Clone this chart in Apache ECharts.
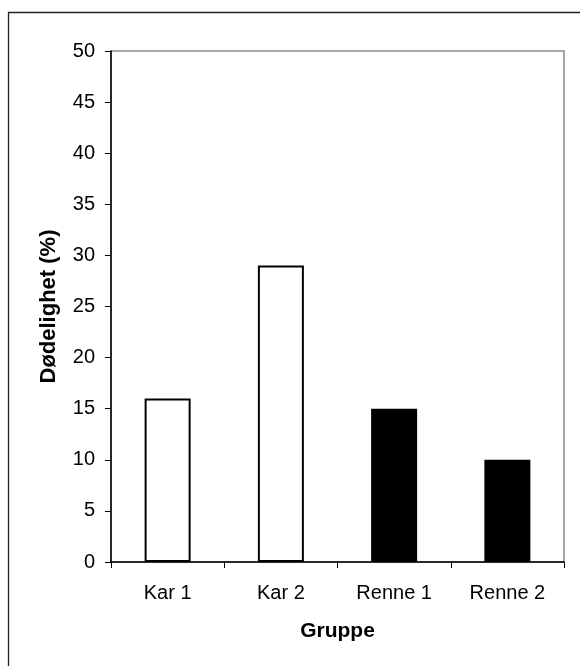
<!DOCTYPE html>
<html>
<head>
<meta charset="utf-8">
<script src="https://cdn.jsdelivr.net/npm/echarts@6/dist/echarts.min.js"></script>
<style>
  html, body { margin: 0; padding: 0; background: #fff; }
  #chart { width: 580px; height: 666px; }
</style>
</head>
<body>
<div id="chart"></div>
<script>
// Mortality per group: tanks (Kar) drawn hollow, channels (Renne) filled
const categories = ['Kar 1', 'Kar 2', 'Renne 1', 'Renne 2'];
const mortality = [16, 29, 15, 10];
const filled = [false, false, true, true];

const font = '"Liberation Sans", Arial, sans-serif';

const chart = echarts.init(document.getElementById('chart'), null, { renderer: 'canvas' });

chart.setOption({
  backgroundColor: '#fff',
  animation: false,
  graphic: [{
    type: 'rect',
    shape: { x: 8.5, y: 12.5, width: 600, height: 700 },
    style: { fill: 'none', stroke: '#222', lineWidth: 1.3 },
    silent: true,
    z: -1
  }],
  grid: {
    left: 111, top: 51, right: 16, bottom: 104,
    show: true, borderColor: '#8c8c8c', borderWidth: 1.5, backgroundColor: 'transparent'
  },
  xAxis: {
    type: 'category',
    data: categories,
    name: 'Gruppe',
    nameLocation: 'middle',
    nameGap: 59,
    nameTextStyle: { fontFamily: font, fontSize: 21, fontWeight: 'bold', color: '#000' },
    axisLine: { lineStyle: { color: '#000', width: 1.5 } },
    axisTick: { show: true, length: 6, alignWithLabel: false, lineStyle: { color: '#000', width: 1 } },
    axisLabel: { fontFamily: font, fontSize: 20, color: '#000', margin: 21 }
  },
  yAxis: {
    type: 'value',
    min: 0, max: 50, interval: 5,
    name: 'Dødelighet (%)',
    nameLocation: 'middle',
    nameGap: 51,
    nameTextStyle: { fontFamily: font, fontSize: 22, fontWeight: 'bold', color: '#000' },
    axisLine: { show: true, lineStyle: { color: '#000', width: 1.5 } },
    axisTick: { show: true, length: 6, lineStyle: { color: '#000', width: 1 } },
    axisLabel: { fontFamily: font, fontSize: 20, color: '#000', margin: 16 },
    splitLine: { show: false }
  },
  series: [{
    type: 'bar',
    barWidth: 46,
    data: mortality.map((v, i) => ({
      value: v,
      itemStyle: {
        color: filled[i] ? '#000' : '#fff',
        borderColor: '#000',
        borderWidth: 2
      }
    }))
  }]
});
</script>
</body>
</html>
